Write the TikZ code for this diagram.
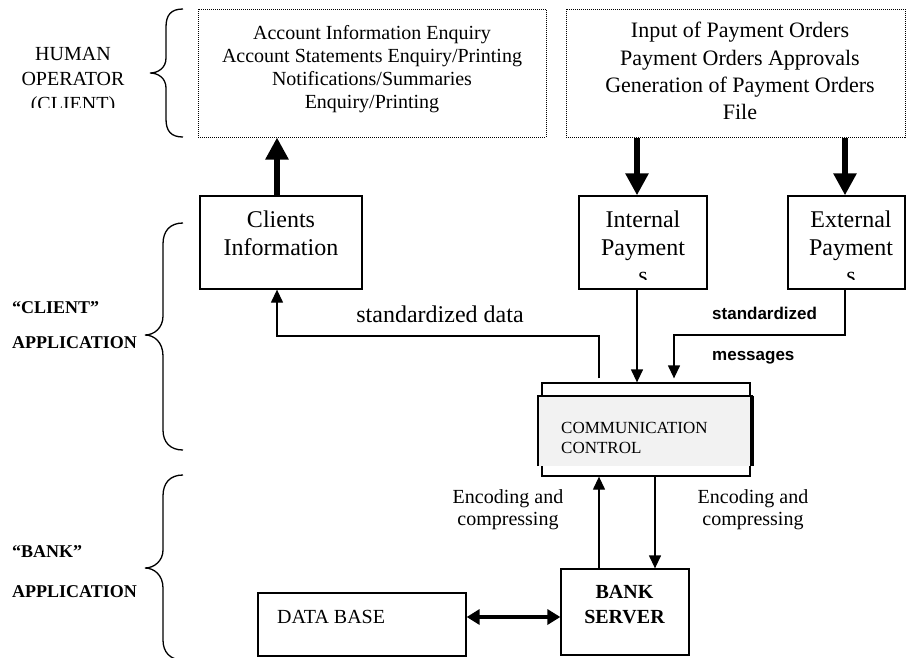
\documentclass[tikz,border=0pt]{standalone}
\usepackage{fontspec}
\setmainfont{Liberation Serif}
\newfontfamily\arialfont{Liberation Sans}
\usetikzlibrary{arrows.meta}
\definecolor{shadegray}{HTML}{F2F2F2}
\begin{document}
\begin{tikzpicture}[x=1pt,y=-1pt,
  dotbox/.style={draw, line width=1pt, dash pattern=on 1pt off 1pt, inner sep=0},
  solidbox/.style={draw, line width=1.3pt, inner sep=0, fill=white},
  txt/.style={inner sep=0, align=center},
  thickarrow/.style={line width=5.5pt, -{Triangle[width=22pt,length=22pt]}},
  thinarrow/.style={line width=1.3pt, -{Triangle[width=12pt,length=13pt]}},
  dblarrow/.style={line width=4.5pt, {Triangle[width=15pt,length=13pt]}-{Triangle[width=15pt,length=13pt]}},
  bracestyle/.style={line width=1.3pt},
]
\useasboundingbox (0,0) rectangle (906,657);

% ---- top dotted boxes
\node[dotbox, minimum width=348pt, minimum height=128pt] (box1) at (372,73) {};
\node[txt, font=\fontsize{20}{23}\selectfont] (box1t) at (372,69) 
  {Account Information Enquiry\\Account Statements Enquiry/Printing\\Notifications/Summaries\\Enquiry/Printing};
\node[dotbox, minimum width=339pt, minimum height=128pt] (box2) at (735.5,73) {};
\node[txt, font=\fontsize{22}{27.3}\selectfont] (box2t) at (740,71.2)
  {Input of Payment Orders\\Payment Orders Approvals\\Generation of Payment Orders\\File};

% ---- human operator label + brace
\begin{scope}
\clip (0,0) rectangle (140,107);
\node[txt, font=\fontsize{20}{25}\selectfont, anchor=base] (human) at (73,110) {HUMAN\\OPERATOR\\(CLIENT)};
\end{scope}
\draw[bracestyle] (183,9) .. controls (171,9) and (166,15) .. (166,27) -- (166,58)
  .. controls (166,68) and (158,73) .. (150,73) .. controls (158,73) and (166,78) .. (166,88)
  -- (166,119) .. controls (166,131) and (171,137) .. (183,137);

% ---- application boxes
\node[solidbox, minimum width=162pt, minimum height=93pt] (clients) at (281,242.5) {};
\node[txt, font=\fontsize{24}{28}\selectfont, anchor=base] (clientst) at (281,255.4) {Clients\\Information};

\node[solidbox, minimum width=128pt, minimum height=93pt] (intp) at (643,242.5) {};
\begin{scope}
\clip (580,197) rectangle (706,279);
\node[txt, font=\fontsize{24}{28}\selectfont, anchor=base] (intpt) at (643,283.4) {Internal\\Payment\\s};
\end{scope}

\node[solidbox, minimum width=117pt, minimum height=93pt] (extp) at (846.5,242.5) {};
\begin{scope}
\clip (789,197) rectangle (905,279);
\node[txt, font=\fontsize{24}{28}\selectfont, anchor=base] (extpt) at (851,283.4) {External\\Payment\\s};
\end{scope}

% ---- communication control
\node[solidbox, minimum width=208pt, minimum height=93pt] (comm) at (646,429.5) {};
\node[inner sep=0, fill=shadegray, minimum width=215pt, minimum height=70pt] (commin) at (645.5,431) {};
\draw[line width=1.8pt] (commin.south west) -- (commin.north west) -- (commin.north east);
\draw[line width=4pt] ([xshift=-1pt]commin.north east) -- ([xshift=-1pt]commin.south east);
\node[inner sep=0, align=left, anchor=base west, font=\fontsize{17}{20}\selectfont] (commt) at (561,453) {COMMUNICATION\\CONTROL};

% ---- bank side
\node[solidbox, minimum width=128pt, minimum height=86pt] (server) at (625,612) {};
\node[txt, font=\fontsize{20}{25}\selectfont\bfseries, anchor=base] (servert) at (624.5,623) {BANK\\SERVER};
\node[solidbox, minimum width=208pt, minimum height=63pt] (db) at (362,624.5) {};
\node[inner sep=0, anchor=base west, font=\fontsize{20}{24}\selectfont] (dbt) at (277,623) {DATA BASE};

% ---- side labels + braces
\node[inner sep=0, anchor=base west, align=left, font=\fontsize{18}{35}\selectfont\bfseries] (clientapp) at (12,348) {“CLIENT”\\APPLICATION};
\draw[bracestyle] (183,223) .. controls (170,223) and (163,231) .. (163,244) -- (163,316)
  .. controls (163,328) and (154,335) .. (145,335) .. controls (154,335) and (163,342) .. (163,356)
  -- (163,430) .. controls (163,442) and (170,450) .. (183,450);
\node[inner sep=0, anchor=base west, align=left, font=\fontsize{18}{40}\selectfont\bfseries] (bankapp) at (12,597) {“BANK”\\APPLICATION};
\draw[bracestyle] (183,475) .. controls (170,475) and (163,483) .. (163,496) -- (163,550)
  .. controls (163,561) and (154,568) .. (145,568) .. controls (154,568) and (163,575) .. (163,588)
  -- (163,640) .. controls (163,652) and (170,660) .. (183,660);

% ---- connectors
\draw[thickarrow] ([xshift=-4pt]clients.north) -- ([xshift=-4pt]clients.north |- box1.south);
\draw[thickarrow] ([xshift=-6pt]intp.north |- box2.south) -- ([xshift=-6pt]intp.north);
\draw[thickarrow] ([xshift=-1.5pt]extp.north |- box2.south) -- ([xshift=-1.5pt]extp.north);

\draw[thinarrow] ([xshift=-6pt]intp.south) -- ([xshift=-6pt]intp.south |- comm.north);
\coordinate (extbend) at (674,335);
\draw[thinarrow, shorten >=4pt] ([xshift=-1.5pt]extp.south) |- (extbend) -- (extbend |- comm.north);
\coordinate (sdbend) at (599,336);
\draw[thinarrow, shorten <=4pt] (sdbend |- comm.north) -- (sdbend) -| ([xshift=-4pt]clients.south);

\coordinate (upx) at (599,520);
\coordinate (dnx) at (655,520);
\draw[thinarrow] (upx |- server.north) -- (upx |- comm.south);
\draw[thinarrow] (dnx |- comm.south) -- (dnx |- server.north);
\coordinate (dbly) at (500,617);
\draw[dblarrow] (db.east |- dbly) -- (server.west |- dbly);

% ---- connector labels
\node[inner sep=0, anchor=base, font=\fontsize{24}{28}\selectfont] (sdlabel) at (440,322) {standardized data};
\node[inner sep=0, anchor=base west, font=\arialfont\bfseries\fontsize{17}{20}\selectfont] (stdlabel) at (712,319) {standardized};
\node[inner sep=0, anchor=base west, font=\arialfont\bfseries\fontsize{17}{20}\selectfont] (msglabel) at (712,360) {messages};
\node[txt, anchor=base, font=\fontsize{20}{22}\selectfont] (enc1) at (508,525) {Encoding and\\compressing};
\node[txt, anchor=base, font=\fontsize{20}{22}\selectfont] (enc2) at (753,525) {Encoding and\\compressing};
\end{tikzpicture}
\end{document}
